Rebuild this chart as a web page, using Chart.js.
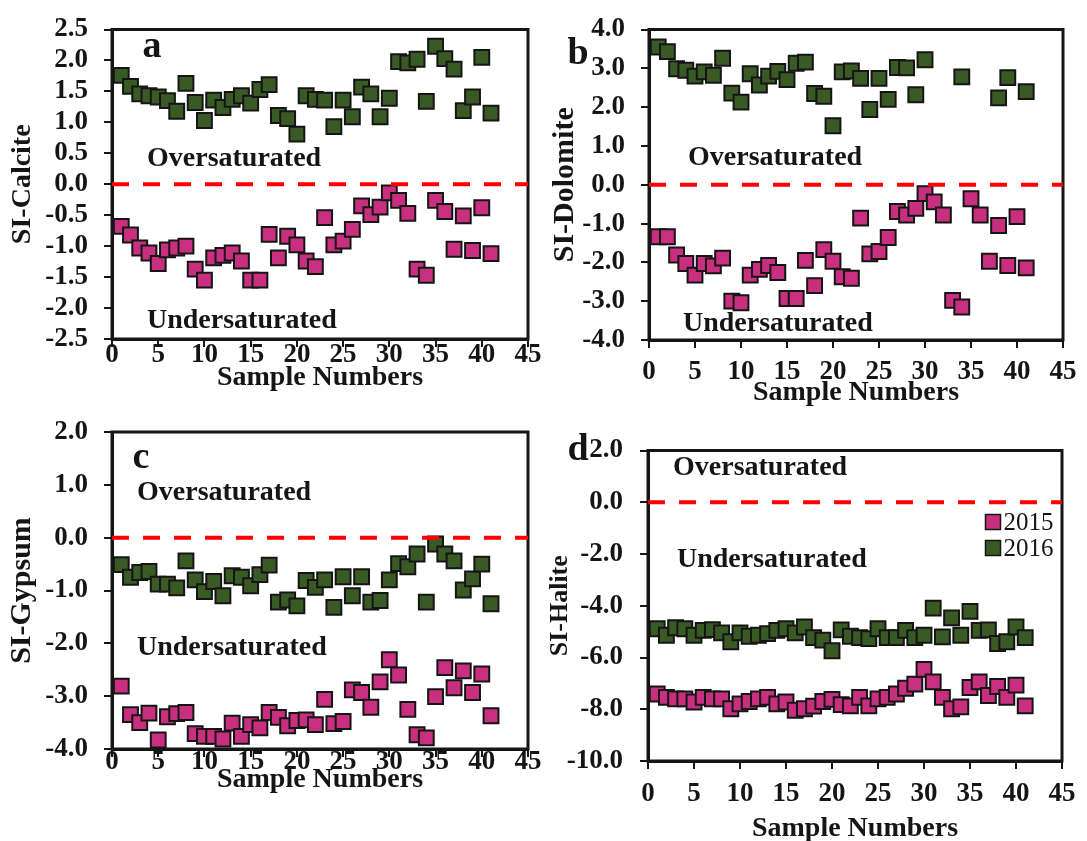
<!DOCTYPE html>
<html>
<head>
<meta charset="utf-8">
<script src="https://cdn.jsdelivr.net/npm/chart.js@4.4.1/dist/chart.umd.min.js"></script>
<style>
html, body { margin: 0; padding: 0; background: #fff; }
#wrap { position: relative; width: 1087px; height: 841px; overflow: hidden; }
canvas { position: absolute; }
</style>
</head>
<body>
<div id="wrap">
  <canvas id="cA" width="545" height="420" style="left:0px;top:0px;width:545px;height:420px"></canvas>
  <canvas id="cB" width="542" height="420" style="left:545px;top:0px;width:542px;height:420px"></canvas>
  <canvas id="cC" width="545" height="441" style="left:0px;top:400px;width:545px;height:441px"></canvas>
  <canvas id="cD" width="542" height="421" style="left:545px;top:420px;width:542px;height:421px"></canvas>
</div>
<script>
// sample numbers 1..41
const samples = [1,2,3,4,5,6,7,8,9,10,11,12,13,14,15,16,17,18,19,20,
                 21,22,23,24,25,26,27,28,29,30,31,32,33,34,35,36,37,38,39,40,41];
const years = ['2015', '2016'];

const xTicks = [0, 5, 10, 15, 20, 25, 30, 35, 40, 45];
const calciteTicks = [-2.5, -2, -1.5, -1, -0.5, 0, 0.5, 1, 1.5, 2, 2.5];
const dolomiteTicks = [-4, -3, -2, -1, 0, 1, 2, 3, 4];
const gypsumTicks = [-4, -3, -2, -1, 0, 1, 2];
const haliteTicks = [-10, -8, -6, -4, -2, 0, 2];

const calcite2015 = [-0.68,-0.82,-1.03,-1.11,-1.28,-1.06,-1.03,-1.00,-1.37,-1.55,
                     -1.19,-1.15,-1.11,-1.24,-1.55,-1.55,-0.81,-1.19,-0.84,-0.98,
                     -1.24,-1.33,-0.54,-0.98,-0.92,-0.73,-0.35,-0.49,-0.37,-0.14,
                     -0.26,-0.47,-1.37,-1.47,-0.26,-0.44,-1.05,-0.51,-1.07,-0.38,-1.12];
const calcite2016 = [1.76,1.58,1.46,1.43,1.41,1.35,1.18,1.63,1.32,1.03,
                     1.36,1.24,1.37,1.43,1.31,1.53,1.61,1.11,1.06,0.81,
                     1.43,1.37,1.36,0.93,1.36,1.09,1.57,1.46,1.09,1.39,
                     1.98,1.96,2.02,1.34,2.23,2.03,1.86,1.19,1.41,2.05,1.15];

const dolomite2015 = [-1.34,-1.34,-1.81,-2.03,-2.33,-2.03,-2.09,-1.89,-3.00,-3.04,
                      -2.33,-2.18,-2.08,-2.26,-2.93,-2.93,-1.95,-2.60,-1.67,-1.97,
                      -2.37,-2.41,-0.86,-1.78,-1.72,-1.36,-0.69,-0.78,-0.61,-0.23,
                      -0.44,-0.78,-2.98,-3.15,-0.36,-0.78,-1.97,-1.05,-2.08,-0.82,-2.14];
const dolomite2016 = [3.55,3.43,2.99,2.95,2.80,2.91,2.82,3.26,2.36,2.13,
                      2.86,2.57,2.80,2.92,2.71,3.13,3.16,2.35,2.28,1.52,
                      2.91,2.93,2.74,1.94,2.74,2.20,3.02,3.01,2.32,3.22,
                      null,null,null,2.78,null,null,null,2.24,2.76,null,2.40];

const gypsum2015 = [-2.81,-3.35,-3.50,-3.32,-3.83,-3.39,-3.33,-3.31,-3.71,-3.76,
                    -3.76,-3.81,-3.51,-3.76,-3.54,-3.60,-3.31,-3.40,-3.56,-3.46,
                    -3.45,-3.54,-3.06,-3.52,-3.48,-2.88,-2.93,-3.21,-2.73,-2.31,
                    -2.60,-3.25,-3.73,-3.79,-3.01,-2.46,-2.84,-2.52,-2.93,-2.58,-3.37];
const gypsum2016 = [-0.51,-0.75,-0.66,-0.64,-0.88,-0.88,-0.95,-0.44,-0.80,-1.02,
                    -0.83,-1.10,-0.72,-0.75,-0.91,-0.70,-0.52,-1.22,-1.18,-1.29,
                    -0.81,-0.94,-0.80,-1.32,-0.74,-1.10,-0.74,-1.22,-1.19,-0.80,
                    -0.49,-0.55,-0.31,-1.22,-0.12,-0.31,-0.44,-0.99,-0.78,-0.50,-1.25];

const halite2015 = [-7.41,-7.54,-7.60,-7.60,-7.72,-7.54,-7.60,-7.60,-7.98,-7.79,
                    -7.70,-7.60,-7.54,-7.79,-7.72,-8.04,-7.98,-7.88,-7.70,-7.62,
                    -7.82,-7.87,-7.54,-7.87,-7.60,-7.54,-7.41,-7.19,-7.03,-6.46,
                    -6.94,-7.54,-7.98,-7.91,-7.16,-6.94,-7.47,-7.12,-7.54,-7.07,-7.87];
const halite2016 = [-4.89,-5.14,-4.85,-4.89,-5.14,-4.95,-4.92,-5.05,-5.39,-5.05,
                    -5.18,-5.14,-5.08,-4.95,-4.89,-5.05,-4.82,-5.23,-5.33,-5.74,
                    -4.93,-5.18,-5.23,-5.27,-4.89,-5.23,-5.23,-4.95,-5.23,-5.14,
                    -4.09,-5.20,-4.47,-5.14,-4.22,-4.95,-4.93,-5.46,-5.39,-4.82,-5.23];

const PINK = '#c8307f';
const GREEN = '#3a5a25';
const INK = '#151515';
const SERIF = "'Liberation Serif', 'Times New Roman', serif";

function pts(vals) {
  return samples.map((s, i) => ({ x: s, y: vals[i] })).filter(p => p.y !== null);
}

// frame round the plot area, panel letters, notes and the legend
const deco = {
  id: 'deco',
  beforeDatasetsDraw(chart) {
    const a = chart.chartArea, ctx = chart.ctx;
    ctx.save();
    ctx.lineWidth = 3;
    ctx.strokeStyle = INK;
    ctx.strokeRect(a.left, a.top, a.right - a.left, a.bottom - a.top);
    ctx.restore();
  },
  afterDraw(chart, args, o) {
    const ctx = chart.ctx;
    ctx.save();
    ctx.fillStyle = INK;
    ctx.textBaseline = 'alphabetic';
    (o.texts || []).forEach(t => {
      ctx.font = t.font;
      ctx.textAlign = t.align || 'left';
      ctx.fillText(t.text, t.x, t.y);
    });
    if (o.legend) {
      const L = o.legend;
      chart.data.datasets.filter(d => years.includes(d.label)).forEach((d, i) => {
        const y = L.y + i * L.gap;
        ctx.fillStyle = d.backgroundColor;
        ctx.fillRect(L.x - L.size / 2, y - L.size / 2, L.size, L.size);
        ctx.lineWidth = 1.5;
        ctx.strokeStyle = INK;
        ctx.strokeRect(L.x - L.size / 2, y - L.size / 2, L.size, L.size);
        ctx.fillStyle = INK;
        ctx.font = L.font;
        ctx.textAlign = 'left';
        ctx.textBaseline = 'middle';
        ctx.fillText(d.label, L.x + L.size / 2 + 3, y + 1);
      });
    }
    ctx.restore();
  }
};

function axisLook() {
  return {
    grid: { display: true, drawOnChartArea: false, drawTicks: true, tickLength: 8, color: INK, lineWidth: 2 },
    border: { display: true, color: INK, width: 3 }
  };
}

function makePanel(p) {
  const tickFont = { family: SERIF, size: 27, weight: 'bold', lineHeight: 1 };
  return new Chart(document.getElementById(p.id), {
    type: 'scatter',
    data: {
      datasets: [
        { type: 'line', label: 'zero', data: [{ x: xTicks[0], y: 0 }, { x: xTicks[xTicks.length - 1], y: 0 }],
          borderColor: '#ff0000', borderWidth: 4, borderDash: [17, 14], pointRadius: 0, order: 0, clip: false },
        { label: years[0], data: pts(p.s2015), backgroundColor: PINK, borderColor: INK, borderWidth: 2,
          pointStyle: 'rect', pointRadius: 10.5, pointHoverRadius: 10.5, order: 2, clip: false },
        { label: years[1], data: pts(p.s2016), backgroundColor: GREEN, borderColor: INK, borderWidth: 2,
          pointStyle: 'rect', pointRadius: 10.5, pointHoverRadius: 10.5, order: 1, clip: false }
      ]
    },
    options: {
      responsive: false,
      animation: false,
      devicePixelRatio: 1,
      layout: { padding: { left: 0, top: p.top, right: p.right, bottom: 0 } },
      plugins: {
        legend: { display: false },
        tooltip: { enabled: false },
        deco: { texts: p.texts, legend: p.legend }
      },
      scales: {
        x: Object.assign(axisLook(), {
          type: 'linear', min: xTicks[0], max: xTicks[xTicks.length - 1],
          afterBuildTicks: s => { s.ticks = xTicks.map(v => ({ value: v })); },
          afterFit: s => { s.height = p.xh; },
          ticks: { font: tickFont, color: INK, padding: p.xpad, maxRotation: 0, autoSkip: false,
                   callback: v => String(v) },
          title: { display: true, text: 'Sample Numbers', color: INK,
                   font: { family: SERIF, size: 28, weight: 'bold', lineHeight: 1 },
                   padding: { top: 0, bottom: p.xtpad } }
        }),
        y: Object.assign(axisLook(), {
          type: 'linear', min: p.yTicks[0], max: p.yTicks[p.yTicks.length - 1],
          afterBuildTicks: s => { s.ticks = p.yTicks.map(v => ({ value: v })); },
          afterFit: s => { s.width = p.yw; },
          ticks: { font: tickFont, color: INK, padding: p.ypad, autoSkip: false,
                   callback: v => Number(v).toFixed(1) },
          title: { display: true, text: p.yTitle, color: INK,
                   font: { family: SERIF, size: p.ytSize, weight: 'bold', lineHeight: 1 },
                   padding: { top: p.ytpad, bottom: 0 } }
        })
      }
    },
    plugins: [deco]
  });
}

const noteFont = 'bold 28px ' + SERIF;
const letterFont = 'bold 38px ' + SERIF;

makePanel({
  id: 'cA', s2015: calcite2015, s2016: calcite2016, yTicks: calciteTicks, yTitle: 'SI-Calcite',
  top: 20, right: 17, yw: 112, xh: 81, ypad: 16, xpad: -5.5, ytSize: 28, ytpad: 9, xtpad: 28,
  texts: [
    { text: 'a', x: 152, y: 57, font: letterFont, align: 'center' },
    { text: 'Oversaturated', x: 147, y: 166, font: noteFont },
    { text: 'Undersaturated', x: 147, y: 328, font: noteFont }
  ]
});

makePanel({
  id: 'cB', s2015: dolomite2015, s2016: dolomite2016, yTicks: dolomiteTicks, yTitle: 'SI-Dolomite',
  top: 22, right: 21, yw: 104, xh: 80, ypad: 16, xpad: 10.5, ytSize: 30, ytpad: 5, xtpad: 13,
  texts: [
    { text: 'b', x: 33, y: 64, font: letterFont, align: 'center' },
    { text: 'Oversaturated', x: 143, y: 165, font: noteFont },
    { text: 'Undersaturated', x: 138, y: 331, font: noteFont }
  ]
});

makePanel({
  id: 'cC', s2015: gypsum2015, s2016: gypsum2016, yTicks: gypsumTicks, yTitle: 'SI-Gypsum',
  top: 32, right: 17, yw: 112, xh: 92, ypad: 16, xpad: -8.5, ytSize: 30, ytpad: 7, xtpad: 47,
  texts: [
    { text: 'c', x: 141, y: 68, font: letterFont, align: 'center' },
    { text: 'Oversaturated', x: 137, y: 100, font: noteFont },
    { text: 'Undersaturated', x: 137, y: 255, font: noteFont }
  ]
});

makePanel({
  id: 'cD', s2015: halite2015, s2016: halite2016, yTicks: haliteTicks, yTitle: 'SI-Halite',
  top: 23, right: 24, yw: 103, xh: 80, ypad: 17, xpad: 11.5, ytSize: 26, ytpad: 2, xtpad: -2,
  texts: [
    { text: 'd', x: 33, y: 40, font: letterFont, align: 'center' },
    { text: 'Oversaturated', x: 128, y: 55, font: noteFont },
    { text: 'Undersaturated', x: 132, y: 147, font: noteFont }
  ],
  legend: { x: 448, y: 102, gap: 26, size: 15, font: '25px ' + SERIF }
});
</script>
</body>
</html>
